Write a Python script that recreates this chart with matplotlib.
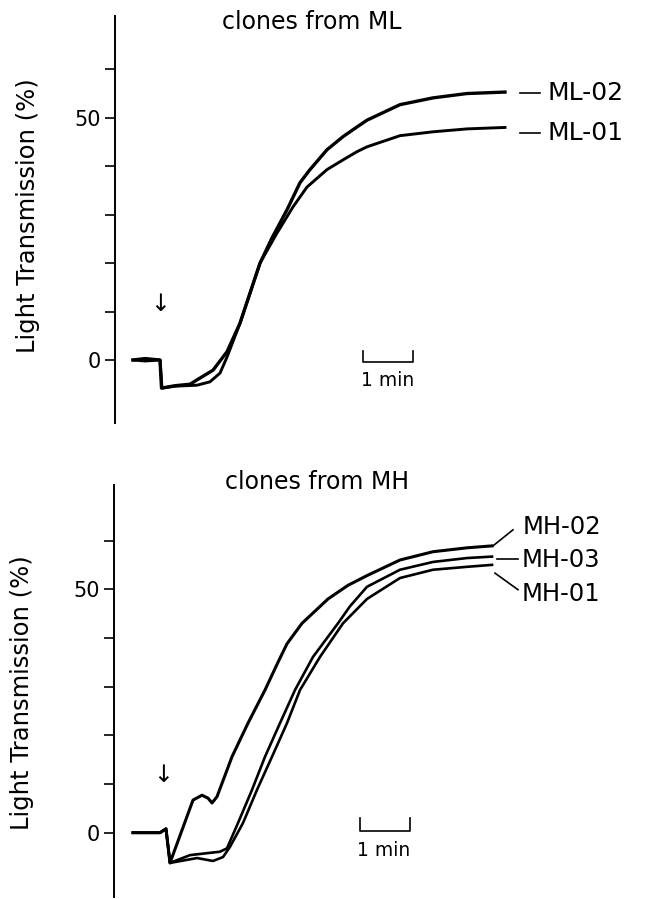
import matplotlib.pyplot as plt

# time in minutes from the addition (arrow), light transmission in %
ml02_t = [-0.54, -0.3, 0.0, 0.03, 0.3, 0.6, 0.74, 1.06, 1.34, 1.6, 1.8, 2.0, 2.24,
          2.54, 2.8, 3.0, 3.34, 3.66, 3.94, 4.14, 4.8, 5.46, 6.14, 6.9]
ml02_v = [0.0, 0.3, 0.0, -5.8, -5.3, -5.0, -4.1, -2.1, 1.7, 7.6, 13.8, 20.0, 25.2,
          31.0, 36.6, 39.3, 43.4, 46.1, 48.1, 49.5, 52.7, 54.1, 55.0, 55.3]

ml01_t = [-0.54, -0.3, 0.0, 0.04, 0.3, 0.74, 1.0, 1.2, 1.34, 1.6, 1.8, 2.0, 2.34,
          2.66, 2.94, 3.34, 3.66, 3.94, 4.14, 4.8, 5.46, 6.14, 6.9]
ml01_v = [0.0, -0.2, 0.0, -5.8, -5.4, -5.2, -4.5, -2.7, 0.6, 7.6, 13.8, 20.0, 26.2,
          31.6, 35.7, 39.3, 41.3, 43.0, 44.0, 46.3, 47.1, 47.7, 48.0]

mh02_t = [-0.66, -0.12, 0.0, 0.08, 0.54, 0.72, 0.84, 0.92, 1.02, 1.32, 1.64, 1.98,
          2.24, 2.42, 2.72, 3.24, 3.64, 4.02, 4.68, 5.34, 6.02, 6.52]
mh02_v = [0.0, 0.0, 0.8, -6.2, 6.7, 7.7, 7.1, 6.1, 7.4, 15.6, 22.5, 29.3,
          35.0, 38.8, 43.0, 48.0, 50.8, 52.8, 56.0, 57.7, 58.5, 58.9]

mh03_t = [-0.66, -0.12, 0.0, 0.08, 0.48, 1.08, 1.22, 1.44, 1.72, 1.98, 2.28, 2.58,
          2.94, 3.44, 3.68, 4.02, 4.68, 5.34, 6.02, 6.52]
mh03_v = [0.0, 0.0, 0.8, -6.2, -4.6, -3.9, -3.2, 2.0, 8.8, 15.6, 22.5, 29.3,
          36.1, 43.0, 46.5, 50.5, 54.0, 55.6, 56.4, 56.7]

mh01_t = [-0.66, -0.12, 0.0, 0.08, 0.62, 0.94, 1.14, 1.28, 1.54, 1.82, 2.12, 2.42,
          2.68, 3.08, 3.54, 4.02, 4.68, 5.34, 6.02, 6.52]
mh01_v = [0.0, 0.0, 0.8, -6.2, -5.2, -5.8, -5.0, -2.9, 2.0, 8.8, 15.6, 22.5,
          29.3, 36.1, 43.0, 48.0, 52.3, 54.0, 54.6, 55.0]

yticks = [0, 10, 20, 30, 40, 50, 60]
yticklabels = ['0', '', '', '', '', '50', '']

W, H = 646, 899
fig = plt.figure(figsize=(W / 100, H / 100), dpi=100)


def setup(ax):
    for s in ['top', 'right', 'bottom']:
        ax.spines[s].set_visible(False)
    ax.spines['left'].set_linewidth(1.4)
    ax.set_xticks([])
    ax.set_yticks(yticks)
    ax.set_yticklabels(yticklabels, fontsize=15)
    ax.tick_params(axis='y', direction='out', length=7, width=1.2, pad=3.5)
    ax.patch.set_alpha(0)


# top panel: clones from ML
ax1 = fig.add_axes([115 / W, 1 - 423 / H, 1 - 115 / W, (423 - 16) / H])
setup(ax1)
ax1.set_xlim(-0.9, 9.72)
ax1.set_ylim(-13, 71)
ax1.plot(ml02_t, ml02_v, color='black', lw=2.4, solid_joinstyle='round')
ax1.plot(ml01_t, ml01_v, color='black', lw=2.1, solid_joinstyle='round')
ax1.text(0.0, 11.5, '↓', fontsize=17, ha='center', va='center')
ax1.plot([4.06, 4.06, 5.06, 5.06], [1.9, -0.4, -0.4, 1.9], color='black', lw=1.2)
ax1.text(4.56, -4.3, '1 min', fontsize=13.5, ha='center', va='center')
for v, name in [(55.2, 'ML-02'), (46.9, 'ML-01')]:
    ax1.plot([7.2, 7.6], [v, v], color='black', lw=1.2, clip_on=False)
    ax1.text(7.74, v, name, fontsize=18, ha='left', va='center', clip_on=False)
fig.text(312 / W, 1 - 22 / H, 'clones from ML', fontsize=17, ha='center', va='center')
fig.text(28 / W, 1 - 216 / H, 'Light Transmission (%)', fontsize=17.5,
         rotation=90, ha='center', va='center')

# bottom panel: clones from MH
ax2 = fig.add_axes([114 / W, 1 - 897 / H, 1 - 114 / W, (897 - 485) / H])
setup(ax2)
ax2.set_xlim(-1.04, 9.6)
ax2.set_ylim(-13.2, 71.4)
ax2.plot(mh02_t, mh02_v, color='black', lw=2.2, solid_joinstyle='round')
ax2.plot(mh03_t, mh03_v, color='black', lw=1.9, solid_joinstyle='round')
ax2.plot(mh01_t, mh01_v, color='black', lw=1.9, solid_joinstyle='round')
ax2.text(-0.06, 11.8, '↓', fontsize=17, ha='center', va='center')
ax2.plot([3.88, 3.88, 4.88, 4.88], [3.0, 0.35, 0.35, 3.0], color='black', lw=1.2)
ax2.text(4.36, -3.6, '1 min', fontsize=13.5, ha='center', va='center')
ax2.plot([6.54, 6.94], [58.9, 62.2], color='black', lw=1.2, clip_on=False)
ax2.plot([6.62, 7.04], [56.2, 56.2], color='black', lw=1.2, clip_on=False)
ax2.plot([6.58, 7.04], [53.3, 49.9], color='black', lw=1.2, clip_on=False)
ax2.text(7.14, 62.8, 'MH-02', fontsize=17.5, ha='left', va='center', clip_on=False)
ax2.text(7.12, 56.0, 'MH-03', fontsize=17.5, ha='left', va='center', clip_on=False)
ax2.text(7.12, 49.0, 'MH-01', fontsize=17.5, ha='left', va='center', clip_on=False)
fig.text(317 / W, 1 - 482 / H, 'clones from MH', fontsize=17, ha='center', va='center')
fig.text(22 / W, 1 - 693 / H, 'Light Transmission (%)', fontsize=17.5,
         rotation=90, ha='center', va='center')

fig.savefig('out.png', dpi=100)
